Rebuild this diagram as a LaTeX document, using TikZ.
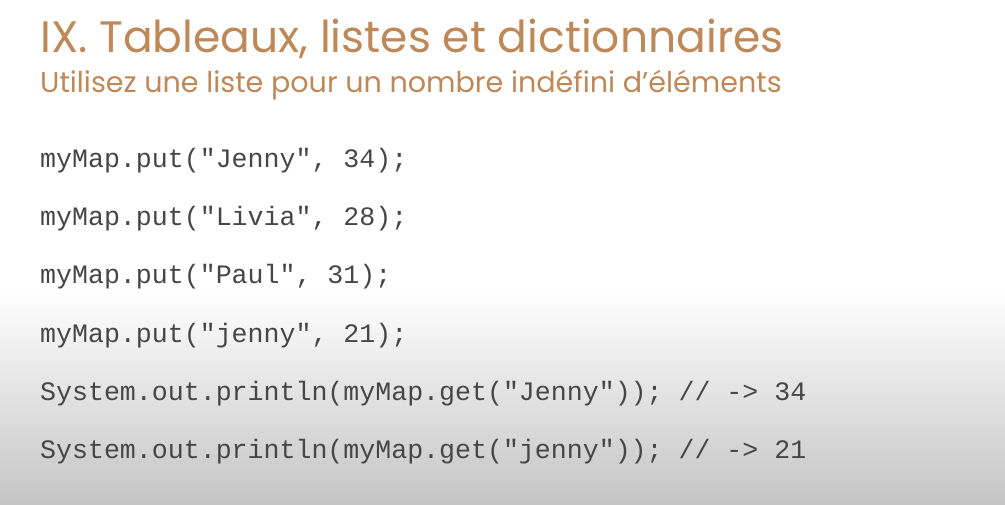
\documentclass[tikz,border=0pt]{standalone}
\usepackage{fontspec}
\newfontfamily\titlefont{Poppins}
\newfontfamily\codefont{Liberation Mono}
\usetikzlibrary{positioning}
\definecolor{titlebrown}{RGB}{190,136,88}
\definecolor{codegray}{RGB}{70,70,70}

\begin{document}
\begin{tikzpicture}[x=1pt,y=-1pt,
    heading/.style={anchor=base west,inner sep=0pt,text=titlebrown,font=\titlefont\fontsize{44}{50}\selectfont},
    subheading/.style={anchor=base west,inner sep=0pt,text=titlebrown,font=\titlefont\fontsize{28.6}{32}\selectfont},
    codeline/.style={anchor=base west,inner sep=0pt,text=codegray,font=\codefont\fontsize{26.6}{30}\selectfont}]
    \useasboundingbox (0,0) rectangle (1005,505);
    \fill[white] (0,0) rectangle (1005,290);
    \shade[top color=white,bottom color=black!23] (0,290) rectangle (1005,505);

    \node[heading] (title) at (40, 53) {IX. Tableaux, listes et dictionnaires};
    \node[subheading] (subtitle) at (40, 93) {Utilisez une liste pour un nombre indéfini d’éléments};

    \node[codeline] (jenny) at (40, 168) {myMap.put("Jenny", 34);};
    \node[codeline] (livia) at (40, 226) {myMap.put("Livia", 28);};
    \node[codeline] (paul) at (40, 284) {myMap.put("Paul", 31);};
    \node[codeline] (jennylow) at (40, 342) {myMap.put("jenny", 21);};
    \node[codeline] (getjenny) at (40, 400) {System.out.println(myMap.get("Jenny")); // -> 34};
    \node[codeline] (getjennylow) at (40, 458) {System.out.println(myMap.get("jenny")); // -> 21};
\end{tikzpicture}
\end{document}
